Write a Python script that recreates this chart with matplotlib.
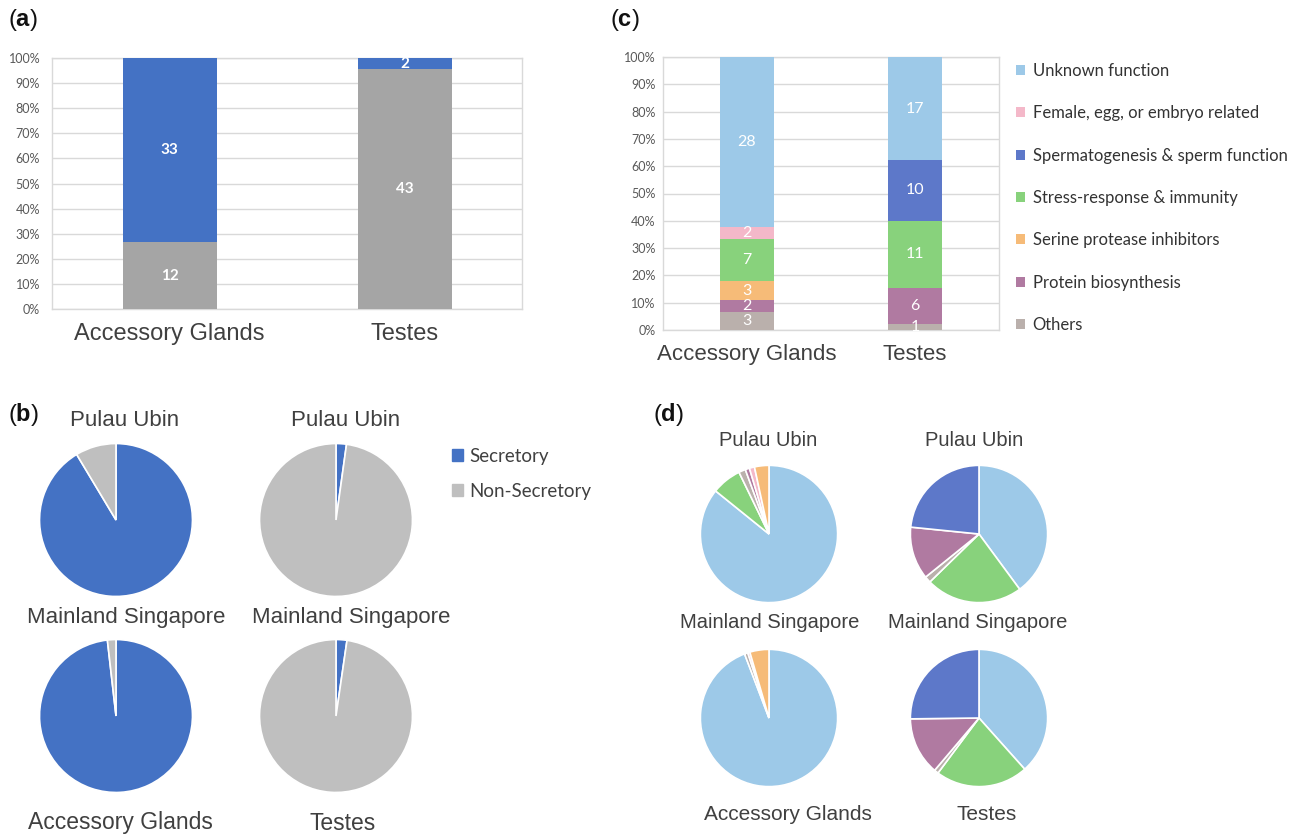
import numpy as np
import matplotlib.pyplot as plt
from matplotlib.patches import Patch

plt.rcParams['font.family'] = ['Liberation Sans', 'DejaVu Sans']
plt.rcParams['mathtext.fontset'] = 'custom'
plt.rcParams['mathtext.rm'] = 'Liberation Sans'
plt.rcParams['mathtext.bf'] = 'Liberation Sans:bold'

W, H = 1298, 836

# panel (a): secretory vs non-secretory counts
tissues = ['Accessory Glands', 'Testes']
secretory = [33, 2]
non_secretory = [12, 43]

# panel (c): function categories, stacked bottom -> top
categories = ['Others', 'Protein biosynthesis', 'Serine protease inhibitors',
              'Stress-response & immunity', 'Spermatogenesis & sperm function',
              'Female, egg, or embryo related', 'Unknown function']
counts_ag = [3, 2, 3, 7, 0, 2, 28]
counts_testes = [1, 6, 0, 11, 10, 0, 17]
cat_colors = {
    'Others': '#BAB0AC',
    'Protein biosynthesis': '#B07AA1',
    'Serine protease inhibitors': '#F6BB78',
    'Stress-response & immunity': '#88D27C',
    'Spermatogenesis & sperm function': '#5D78C9',
    'Female, egg, or embryo related': '#F4B8C9',
    'Unknown function': '#9DC9E8',
}

# panel (b): % secretory per site (rows: Pulau Ubin, Mainland Singapore)
sites = ['Pulau Ubin', 'Mainland Singapore']
sec_pct_ag = [91.4, 98.2]
sec_pct_testes = [2.2, 2.3]

# panel (d): % by function per site, clockwise pie order
pie_order = ['Unknown function', 'Stress-response & immunity', 'Others',
             'Protein biosynthesis', 'Female, egg, or embryo related',
             'Spermatogenesis & sperm function', 'Serine protease inhibitors']
ubin_ag = [85.8, 7.0, 1.6, 1.0, 1.2, 0.0, 3.4]
ubin_testes = [39.9, 22.8, 1.5, 12.4, 0.0, 23.4, 0.0]
main_ag = [94.2, 0.0, 0.8, 0.0, 0.5, 0.0, 4.5]
main_testes = [38.4, 21.8, 1.0, 13.6, 0.0, 25.2, 0.0]

BLUE = '#4472C4'
GREY_BAR = '#A5A5A5'
GREY_PIE = '#BFBFBF'
TXT = '#404040'
TICK = '#595959'
GRID = '#D9D9D9'
LATO = ['Lato', 'DejaVu Sans']

fig = plt.figure(figsize=(W / 100, H / 100), dpi=100)


def px_axes(x0, y0, x1, y1):
    return fig.add_axes([x0 / W, 1 - y1 / H, (x1 - x0) / W, (y1 - y0) / H])


def style_bar_axes(ax, ypad, xfs):
    ax.set_xlim(-0.5, 1.5)
    ax.set_ylim(0, 100)
    ax.set_yticks(np.arange(0, 101, 10))
    ax.set_yticklabels([f'{v}%' for v in range(0, 101, 10)],
                       family=LATO, fontsize=9, color=TICK)
    ax.tick_params(axis='y', length=0, pad=ypad)
    ax.tick_params(axis='x', length=0, pad=10)
    ax.set_xticks([0, 1])
    ax.set_xticklabels(tissues, fontsize=xfs, color=TXT)
    ax.yaxis.grid(True, color=GRID, lw=1)
    ax.set_axisbelow(True)
    for s in ax.spines.values():
        s.set_color(GRID)
        s.set_linewidth(1)


def panel_letter(x, y, letter):
    fig.text(x / W, 1 - y / H, r'($\mathbf{%s}$)' % letter, fontsize=17,
             va='center', ha='left', color='#111111')


# ---- (a)
ax = px_axes(52, 58, 522, 309)
x = np.arange(len(tissues))
tot = np.array(secretory) + np.array(non_secretory)
p_non = np.array(non_secretory) / tot * 100
p_sec = np.array(secretory) / tot * 100
ax.bar(x, p_non, width=0.4, color=GREY_BAR, zorder=3)
ax.bar(x, p_sec, width=0.4, bottom=p_non, color=BLUE, zorder=3)
for i in range(len(x)):
    ax.text(x[i], p_non[i] / 2, str(non_secretory[i]), ha='center', va='center',
            color='white', fontsize=11, fontweight='bold', family=LATO, zorder=4)
    ax.text(x[i], p_non[i] + p_sec[i] / 2, str(secretory[i]), ha='center', va='center',
            color='white', fontsize=11, fontweight='bold', family=LATO, zorder=4)
style_bar_axes(ax, 8.5, 17)
panel_letter(8, 20, 'a')

# ---- (c)
ax = px_axes(663, 57, 999, 330)
tot_ag = sum(counts_ag)
tot_te = sum(counts_testes)
bottom = np.zeros(2)
handles = []
for k, cat in enumerate(categories):
    vals = np.array([counts_ag[k], counts_testes[k]])
    pct = vals / np.array([tot_ag, tot_te]) * 100
    b = ax.bar(x, pct, width=0.32, bottom=bottom, color=cat_colors[cat], zorder=3, label=cat)
    handles.append(b)
    for i in range(2):
        if vals[i] > 0:
            ax.text(x[i], bottom[i] + pct[i] / 2, str(vals[i]), ha='center', va='center',
                    color='white', fontsize=11.5, family=LATO, zorder=4)
    bottom += pct
style_bar_axes(ax, 5.5, 16)
panel_letter(610, 20, 'c')
fig.legend(handles[::-1], categories[::-1], loc='upper left',
           bbox_to_anchor=(1016 / W, 1 - 63 / H), frameon=False,
           prop={'family': LATO, 'size': 12},
           handlelength=0.55, handleheight=0.55, handletextpad=0.45,
           labelspacing=1.58, borderpad=0, borderaxespad=0, labelcolor='#333333')


# ---- pies
def pie_axes(box, values, colors):
    a = px_axes(*box)
    vals = [v for v in values if v > 0]
    cols = [c for v, c in zip(values, colors) if v > 0]
    a.pie(vals, colors=cols, startangle=90, counterclock=False, radius=1,
          wedgeprops=dict(edgecolor='white', linewidth=1.2))
    a.set_xlim(-1.02, 1.02)
    a.set_ylim(-1.02, 1.02)
    return a


def label(xc, yc, s, fs):
    fig.text(xc / W, 1 - yc / H, s, ha='center', va='center', fontsize=fs, color=TXT)


# ---- (b)
panel_letter(8, 415, 'b')
b_boxes = {('ag', 0): (38, 442, 194, 598), ('te', 0): (258, 442, 414, 598),
           ('ag', 1): (38, 638, 194, 794), ('te', 1): (258, 638, 414, 794)}
for r in range(2):
    pie_axes(b_boxes[('ag', r)], [sec_pct_ag[r], 100 - sec_pct_ag[r]], [BLUE, GREY_PIE])
    pie_axes(b_boxes[('te', r)], [sec_pct_testes[r], 100 - sec_pct_testes[r]], [BLUE, GREY_PIE])
label(125, 421, sites[0], 16)
label(346, 421, sites[0], 16)
label(126, 617, sites[1], 16)
label(351, 617, sites[1], 16)
label(120, 823, tissues[0], 16.5)
label(343, 823, tissues[1], 16.5)
fig.legend([Patch(color=BLUE), Patch(color=GREY_PIE)], ['Secretory', 'Non-Secretory'],
           loc='upper left', bbox_to_anchor=(452 / W, 1 - 448 / H), frameon=False,
           prop={'family': LATO, 'size': 13.5},
           handlelength=0.6, handleheight=0.6, handletextpad=0.3,
           labelspacing=0.95, borderpad=0, borderaxespad=0, labelcolor='#404040')

# ---- (d)
panel_letter(653, 415, 'd')
d_cols = [cat_colors[c] for c in pie_order]
pie_axes((699, 464, 839, 604), ubin_ag, d_cols)
pie_axes((909, 464, 1049, 604), ubin_testes, d_cols)
pie_axes((699, 648, 839, 788), main_ag, d_cols)
pie_axes((909, 648, 1049, 788), main_testes, d_cols)
label(768, 441, sites[0], 14.5)
label(974, 441, sites[0], 14.5)
label(770, 622, sites[1], 14.5)
label(978, 622, sites[1], 14.5)
label(788, 815, tissues[0], 15)
label(987, 815, tissues[1], 15)

fig.savefig('out.png', dpi=100, facecolor='white')
